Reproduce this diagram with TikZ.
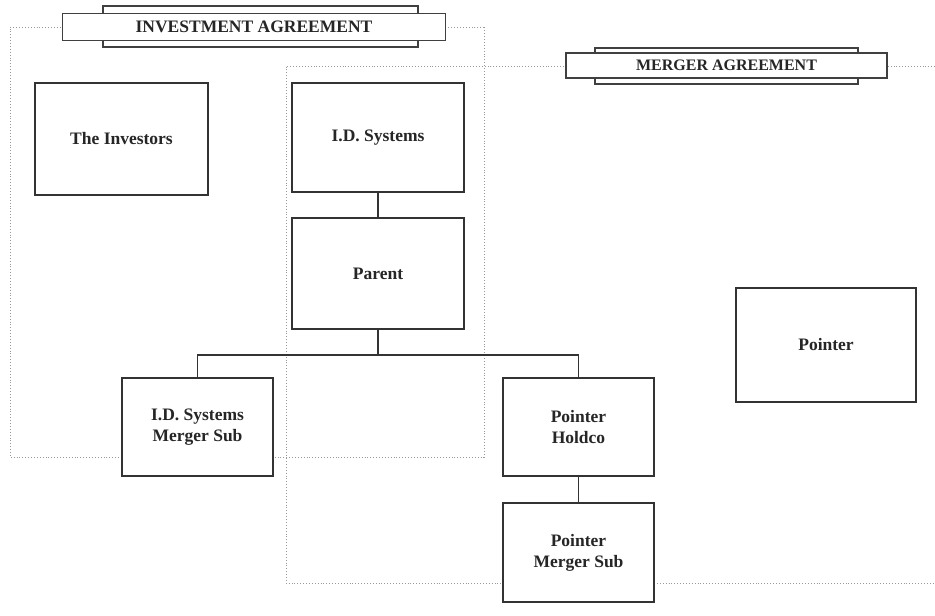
\documentclass[tikz,border=0pt]{standalone}
\usepackage{fontspec}
\setmainfont{Liberation Serif}
\begin{document}
\begin{tikzpicture}[x=1pt,y=-1pt,
  box/.style={draw=black!80, line width=1.4pt, fill=white, inner sep=0pt, align=center,
    font=\fontsize{17.5}{21}\selectfont\bfseries, text=black!85},
  agree/.style={draw=black!40, line width=0.9pt, dotted},
  conn/.style={draw=black!80, line width=1.4pt},
  bannerback/.style={draw=black!75, line width=1.3pt, fill=white},
  bannerfront/.style={draw=black!75, line width=1.3pt, fill=white, inner sep=0pt,
    text=black!85}]
\useasboundingbox (0,0) rectangle (935,616);
% agreement regions (dotted)
\draw[agree] (484,27) -- (10,27) -- (10,457) -- (484,457) -- cycle;
\draw[agree] (935,66) -- (286,66) -- (286,583) -- (935,583);
% banners
\draw[bannerback] (103,6) rectangle (418,47);
\node[bannerfront, minimum width=383pt, minimum height=27pt,
  font=\fontsize{17.5}{20}\selectfont\bfseries] (invban) at (254,27) {INVESTMENT AGREEMENT};
\draw[bannerback] (595,48) rectangle (858,84);
\node[bannerfront, minimum width=321pt, minimum height=25pt,
  font=\fontsize{16}{20}\selectfont\bfseries] (merban) at (726.5,65.5) {MERGER AGREEMENT};
% boxes
\node[box, minimum width=173pt, minimum height=112pt] (inv) at (121.5,139) {The Investors};
\node[box, minimum width=172pt, minimum height=109pt] (ids) at (378,137.5) {I.D. Systems};
\node[box, minimum width=172pt, minimum height=111pt] (parent) at (378,273.5) {Parent};
\node[box, minimum width=180pt, minimum height=114pt] (pointer) at (826,345) {Pointer};
\node[box, minimum width=151pt, minimum height=98pt] (idsms) at (197.5,427) {I.D. Systems\\Merger Sub};
\node[box, minimum width=151pt, minimum height=98pt] (holdco) at (578.5,427) {Pointer\\Holdco};
\node[box, minimum width=151pt, minimum height=99pt] (pms) at (578.5,552.5) {Pointer\\Merger Sub};
% connectors
\coordinate (bus) at (378,355);
\draw[conn] (ids.south) -- (parent.north);
\draw[conn] (parent.south) -- (bus);
\draw[conn] (idsms.north) |- (bus) -| (holdco.north);
\draw[conn] (holdco.south) -- (pms.north);
\end{tikzpicture}
\end{document}
